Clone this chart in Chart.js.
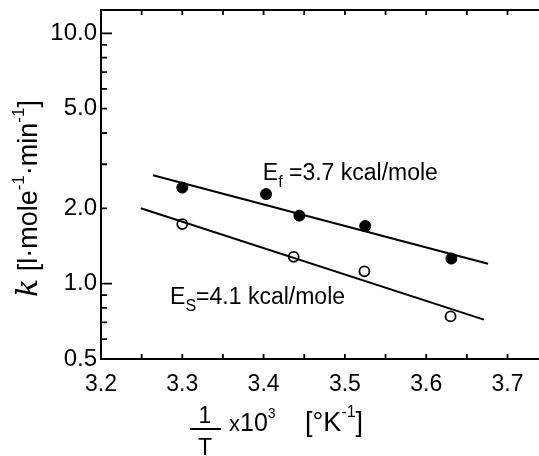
<!DOCTYPE html>
<html>
<head>
<meta charset="utf-8">
<script src="https://cdn.jsdelivr.net/npm/chart.js@4/dist/chart.umd.min.js"></script>
<style>
  html, body { margin: 0; padding: 0; background: #fff; overflow: hidden; }
  /* 7px de plus : Chart.js réserve la marge des points à droite */
  #wrap { width: 546px; height: 456px; position: relative; }
</style>
</head>
<body>
<div id="wrap"><canvas id="c"></canvas></div>
<script>
// valeurs : 1/T x 10^3 et constante de vitesse k
const fastX = [3.30, 3.403, 3.444, 3.525, 3.631];
const fastK = [2.42, 2.28, 1.87, 1.70, 1.26];
const slowX = [3.30, 3.437, 3.524, 3.630];
const slowK = [1.73, 1.28, 1.12, 0.74];

// droites d'Arrhenius (extrémités)
const fastFitX = [3.264, 3.676];
const fastFitK = [2.71, 1.20];
const slowFitX = [3.249, 3.671];
const slowFitK = [2.00, 0.718];

// graduations
const xTicks = [3.2, 3.3, 3.4, 3.5, 3.6, 3.7];
const xMinor = [3.2, 3.25, 3.3, 3.35, 3.4, 3.45, 3.5, 3.55, 3.6, 3.65, 3.7];
const yTicks = [0.5, 1, 2, 5, 10];
const yMinor = [0.6, 0.7, 0.8, 0.9, 1, 2, 3, 4, 5, 6, 7, 8, 9, 10];

// étiquettes des droites
const noteText = ['E|f| =3.7 kcal/mole', 'E|S|=4.1 kcal/mole'];
const noteX = [3.399, 3.285];
const noteK = [2.59, 0.833];

const pts = (xs, ys) => xs.map((v, i) => ({ x: v, y: ys[i] }));
const SANS = '"Liberation Sans", Arial, sans-serif';

// petit texte avec indices/exposants : runs = [[texte, taille, décalage, police]]
function runs(ctx, list, x, y) {
    let cx = x;
    list.forEach(([t, size, dy, font]) => {
        ctx.font = font || (size + 'px ' + SANS);
        ctx.fillText(t, cx, y + dy);
        cx += ctx.measureText(t).width;
    });
    return cx;
}

const noPad = s => { s.paddingTop = 0; s.paddingBottom = 0; s.paddingLeft = 0; s.paddingRight = 0; };

const deco = {
    id: 'deco',
    afterDraw(chart) {
        const { ctx, chartArea: a, scales: { x, y } } = chart;
        ctx.save();
        ctx.strokeStyle = '#000';
        ctx.fillStyle = '#000';
        ctx.lineWidth = 2;
        ctx.beginPath();
        ctx.moveTo(a.left - 1, a.top);
        ctx.lineTo(a.right, a.top);
        ctx.stroke();

        // graduations vers l'intérieur
        ctx.lineWidth = 1.8;
        ctx.beginPath();
        xMinor.forEach(v => {
            const px = x.getPixelForValue(v);
            ctx.moveTo(px, a.bottom); ctx.lineTo(px, a.bottom - 5);
            ctx.moveTo(px, a.top); ctx.lineTo(px, a.top + 5);
        });
        yMinor.forEach(v => {
            const py = y.getPixelForValue(v);
            const len = (v === 1 || v === 10) ? 11 : 6;
            ctx.moveTo(a.left, py); ctx.lineTo(a.left + len, py);
        });
        ctx.stroke();

        // étiquettes E_f / E_s
        ctx.textBaseline = 'alphabetic';
        ctx.textAlign = 'left';
        noteText.forEach((s, i) => {
            const [a1, sub, rest] = s.split('|');
            runs(ctx, [[a1, 23, 0], [sub, 16, 7], [rest, 23, 0]],
                x.getPixelForValue(noteX[i]), y.getPixelForValue(noteK[i]));
        });

        // titre de l'axe x : 1/T x 10^3 [°K^-1]
        ctx.textAlign = 'center';
        ctx.font = '23px ' + SANS;
        ctx.fillText('1', 205, 423);
        ctx.fillText('T', 205, 455);
        ctx.lineWidth = 2;
        ctx.beginPath(); ctx.moveTo(190, 429); ctx.lineTo(221, 429); ctx.stroke();
        ctx.textAlign = 'left';
        runs(ctx, [['x', 22, 0], ['10', 25, 0], ['3', 14, -13]], 229, 431);
        runs(ctx, [['[\u00b0K', 27, 0], ['-1', 16, -14], [']', 27, 0]], 305, 431);

        // titre de l'axe y
        ctx.translate(37, 297);
        ctx.rotate(-Math.PI / 2);
        runs(ctx, [['k', 0, 0, 'italic 30px "DejaVu Serif", serif'], [' [l\u00b7mole', 27, 0], ['-1', 17, -13],
            ['\u00b7min', 27, 0], ['-1', 17, -13], [']', 27, 0]], 0, 0);
        ctx.restore();
    }
};

new Chart(document.getElementById('c'), {
    type: 'scatter',
    data: {
        datasets: [
            { data: pts(fastFitX, fastFitK), showLine: true, borderColor: '#000', borderWidth: 2, pointRadius: 0 },
            { data: pts(slowFitX, slowFitK), showLine: true, borderColor: '#000', borderWidth: 2, pointRadius: 0 },
            { data: pts(fastX, fastK), pointRadius: 5.5, backgroundColor: '#000', borderColor: '#000', borderWidth: 1 },
            { data: pts(slowX, slowK), pointRadius: 5, backgroundColor: '#fff', borderColor: '#000', borderWidth: 1.8 }
        ]
    },
    options: {
        responsive: true,
        maintainAspectRatio: false,
        animation: false,
        layout: { padding: { top: 10, right: 0, left: 0, bottom: 0 } },
        plugins: { legend: { display: false }, tooltip: { enabled: false } },
        scales: {
            x: {
                type: 'linear', min: 3.2, max: 3.739,
                grid: { display: false, drawTicks: false },
                border: { display: true, color: '#000', width: 2 },
                afterBuildTicks: s => { s.ticks = xTicks.map(v => ({ value: v })); },
                afterFit: s => { s.height = 97; noPad(s); },
                ticks: {
                    color: '#000', padding: 12, maxRotation: 0,
                    font: { family: SANS, size: 23 },
                    callback: v => v.toFixed(1)
                }
            },
            y: {
                type: 'logarithmic', min: 0.5, max: 12.4,
                grid: { display: false, drawTicks: false },
                border: { display: true, color: '#000', width: 2 },
                afterBuildTicks: s => { s.ticks = yTicks.map(v => ({ value: v })); },
                afterFit: s => { s.width = 101; noPad(s); },
                ticks: {
                    color: '#000', padding: 4,
                    font: { family: SANS, size: 24 },
                    callback: v => Number(v).toFixed(1)
                }
            }
        }
    },
    plugins: [deco]
});
</script>
</body>
</html>
